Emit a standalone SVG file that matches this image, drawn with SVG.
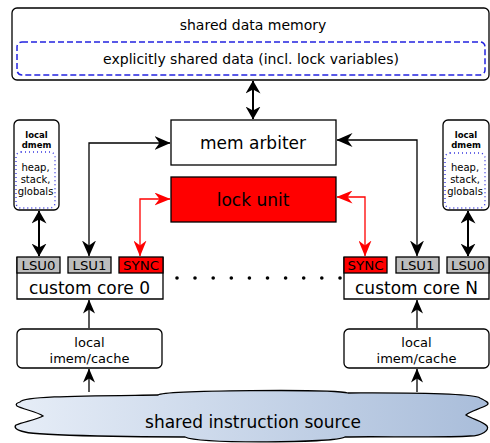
<svg xmlns="http://www.w3.org/2000/svg" width="490" height="443" viewBox="0 0 490 443">
<style>
text{font-family:"DejaVu Sans","Liberation Sans",sans-serif;fill:#000;text-anchor:middle}
.box{fill:#fff;stroke:#000;stroke-width:1.3}
.lsu{fill:#bdbdbd;stroke:#000;stroke-width:1.3}
.sync{fill:#f00;stroke:#000;stroke-width:1.3}
.t17{font-size:17px}
.t14{font-size:14px}
.t13{font-size:13px}
.t12{font-size:12px}
.t10{font-size:10px}
.tb{font-size:8.5px;font-weight:bold}
.c{fill:none;stroke:#000;stroke-width:1.3}
.r{fill:none;stroke:#f00;stroke-width:1.3}
.thick{fill:none;stroke:#000;stroke-width:2}
</style>
<defs>
<marker id="ak" markerUnits="userSpaceOnUse" markerWidth="16" markerHeight="14" viewBox="0 0 16 14" refX="15.5" refY="7" orient="auto-start-reverse"><path d="M0,0 L16,7 L0,14 L5,7 Z" fill="#000"/></marker>
<marker id="ar" markerUnits="userSpaceOnUse" markerWidth="16" markerHeight="13" viewBox="0 0 16 13" refX="15.5" refY="6.5" orient="auto-start-reverse"><path d="M0,0 L16,6.5 L0,13 L5,6.5 Z" fill="#f00"/></marker>
<marker id="at" markerUnits="userSpaceOnUse" markerWidth="13" markerHeight="15" viewBox="0 0 13 15" refX="12.5" refY="7.5" orient="auto-start-reverse"><path d="M0,0 L13,7.5 L0,15 L4,7.5 Z" fill="#000"/></marker>
<marker id="au" markerUnits="userSpaceOnUse" markerWidth="14" markerHeight="12" viewBox="0 0 14 12" refX="13.5" refY="6" orient="auto"><path d="M0,0 L14,6 L0,12 L4,6 Z" fill="#000"/></marker>
<linearGradient id="cg" x1="0" y1="0" x2="1" y2="0"><stop offset="0" stop-color="#e6edf7"/><stop offset="1" stop-color="#a9bdda"/></linearGradient>
</defs>

<g id="shared-data-memory">
<rect class="box" x="12" y="8" width="477" height="72" rx="5"/>
<text class="t14" x="253" y="30">shared data memory</text>
<rect x="17" y="42" width="468" height="33" rx="5" fill="none" stroke="#2323e0" stroke-width="1.5" stroke-dasharray="6,3"/>
<text class="t14" x="251" y="64">explicitly shared data (incl. lock variables)</text>
</g>

<g id="mem-arbiter">
<rect class="box" x="171" y="120" width="165" height="45"/>
<text class="t17" x="253" y="148.5">mem arbiter</text>
</g>

<g id="lock-unit">
<rect x="171" y="177" width="165" height="45" fill="#f00" stroke="#000" stroke-width="1.3"/>
<text class="t17" x="253" y="205.5">lock unit</text>
</g>

<g id="dmem-0">
<rect class="box" x="14" y="120" width="45" height="90" rx="5"/>
<text class="tb" x="36.5" y="138">local</text>
<text class="tb" x="36.5" y="148">dmem</text>
<rect x="16" y="152" width="39" height="56" rx="5" fill="none" stroke="#3a3ae0" stroke-width="1.4" stroke-dasharray="1,3"/>
<text class="t10" x="35.5" y="171">heap,</text>
<text class="t10" x="35.5" y="183">stack,</text>
<text class="t10" x="35.5" y="195">globals</text>
</g>

<g id="dmem-n">
<rect class="box" x="443" y="120" width="46" height="90" rx="5"/>
<text class="tb" x="466" y="138">local</text>
<text class="tb" x="466" y="148">dmem</text>
<rect x="445" y="153" width="40" height="55" rx="5" fill="none" stroke="#3a3ae0" stroke-width="1.4" stroke-dasharray="1,3"/>
<text class="t10" x="465" y="171">heap,</text>
<text class="t10" x="465" y="183">stack,</text>
<text class="t10" x="465" y="195">globals</text>
</g>

<g id="core-0">
<path d="M17,257 V299 H163 V257" fill="#fff" stroke="#000" stroke-width="1.3"/>
<rect class="lsu" x="17" y="257" width="43" height="16"/>
<text class="t12" x="38.5" y="269.5" textLength="34" lengthAdjust="spacingAndGlyphs">LSU0</text>
<rect class="lsu" x="68" y="257" width="43" height="16"/>
<text class="t12" x="89.5" y="269.5" textLength="34" lengthAdjust="spacingAndGlyphs">LSU1</text>
<rect class="sync" x="119" y="257" width="44" height="16"/>
<text class="t12" x="141" y="269.5" textLength="36" lengthAdjust="spacingAndGlyphs">SYNC</text>
<text class="t17" x="89.5" y="294">custom core 0</text>
</g>

<g id="core-n">
<path d="M344,257 V299 H489 V257" fill="#fff" stroke="#000" stroke-width="1.3"/>
<rect class="sync" x="344" y="257" width="43" height="16"/>
<text class="t12" x="365.5" y="269.5" textLength="36" lengthAdjust="spacingAndGlyphs">SYNC</text>
<rect class="lsu" x="396" y="257" width="43" height="16"/>
<text class="t12" x="417.5" y="269.5" textLength="34" lengthAdjust="spacingAndGlyphs">LSU1</text>
<rect class="lsu" x="447" y="257" width="42" height="16"/>
<text class="t12" x="468" y="269.5" textLength="34" lengthAdjust="spacingAndGlyphs">LSU0</text>
<text class="t17" x="416.5" y="294">custom core N</text>
</g>

<g id="ellipsis" fill="#000">
<circle cx="177" cy="278" r="1.8"/><circle cx="195" cy="278" r="1.8"/><circle cx="213.2" cy="278" r="1.8"/><circle cx="231.3" cy="278" r="1.8"/><circle cx="249.4" cy="278" r="1.8"/><circle cx="267.5" cy="278" r="1.8"/><circle cx="285.6" cy="278" r="1.8"/><circle cx="303.7" cy="278" r="1.8"/><circle cx="321.8" cy="278" r="1.8"/><circle cx="340" cy="278" r="1.8"/>
</g>

<g id="imem-0">
<rect class="box" x="17" y="329" width="145" height="39" rx="5"/>
<text class="t13" x="89.5" y="347">local</text>
<text class="t13" x="89.5" y="363">imem/cache</text>
</g>

<g id="imem-n">
<rect class="box" x="344" y="329" width="145" height="39" rx="5"/>
<text class="t13" x="416.5" y="347">local</text>
<text class="t13" x="416.5" y="363">imem/cache</text>
</g>

<g id="instruction-source">
<path d="M20,402 C24,396 80,396 158,395 C165,390 335,389 348,393 C380,393 470,392 480,398 C486,401 490,403 487,405 C480,409 470,411 466,415 C472,419 484,422 487,426 C490,430 482,436 470,436 C440,438 370,436 345,437 C335,443 200,444 185,437 C150,437 40,436 25,432 C15,430 14,427 16,425 C24,422 38,419 43,416 C38,412 22,409 17,406 C15,404 17,403 20,402 Z" fill="url(#cg)" stroke="#000" stroke-width="1.3"/>
<text class="t17" x="253" y="428">shared instruction source</text>
</g>

<g id="connectors">
<path class="thick" d="M253,81 V119" marker-start="url(#at)" marker-end="url(#at)"/>
<path class="thick" d="M39,211 V256" marker-start="url(#at)" marker-end="url(#at)"/>
<path class="thick" d="M468,211 V256" marker-start="url(#at)" marker-end="url(#at)"/>
<path class="c" d="M89,256 V143 H170" marker-start="url(#ak)" marker-end="url(#ak)"/>
<path class="c" d="M417,256 V140 H337" marker-start="url(#ak)" marker-end="url(#ak)"/>
<path class="r" d="M140,256 V199 H170" marker-start="url(#ar)" marker-end="url(#ar)"/>
<path class="r" d="M365,256 V197 H337" marker-start="url(#ar)" marker-end="url(#ar)"/>
<path class="c" d="M89,328 V300" marker-end="url(#au)"/>
<path class="c" d="M89,392 V369" marker-end="url(#au)"/>
<path class="c" d="M417,328 V300" marker-end="url(#au)"/>
<path class="c" d="M417,392 V369" marker-end="url(#au)"/>
</g>
</svg>
